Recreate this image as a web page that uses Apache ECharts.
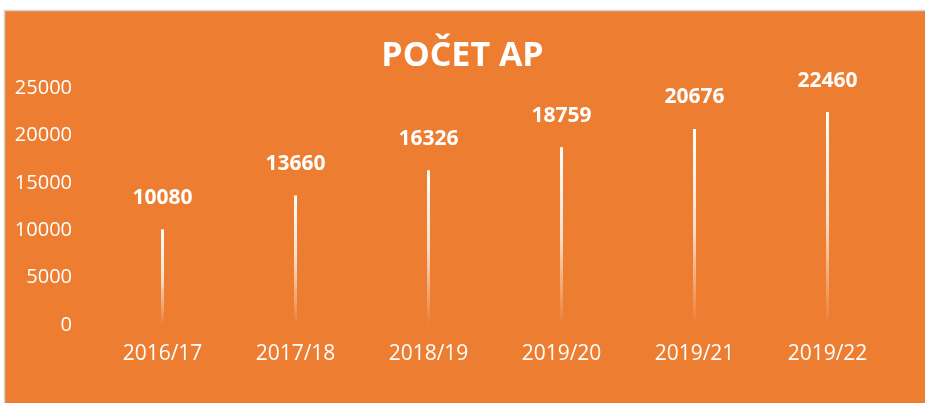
<!DOCTYPE html>
<html>
<head>
<meta charset="utf-8">
<script src="https://cdn.jsdelivr.net/npm/echarts@6/dist/echarts.min.js"></script>
<style>
html, body { margin: 0; padding: 0; background: #fff; }
#chart { width: 925px; height: 403px; }
</style>
</head>
<body>
<div id="chart"></div>
<script>
const categories = ['2016/17', '2017/18', '2018/19', '2019/20', '2019/21', '2019/22'];
const counts = [10080, 13660, 16326, 18759, 20676, 22460];
const yTicks = { min: 0, max: 25000, interval: 5000 };

const colorSets = {
    bg: '#ED7D31',
    text: '#ffffff',
    border: '#d4d4d4'
};
const fontFamily = '"Open Sans", sans-serif';

const chart = echarts.init(document.getElementById('chart'));
chart.setOption({
    backgroundColor: '#ffffff',
    graphic: [
        {
            type: 'rect',
            z: -10,
            shape: { x: 4.5, y: 10.5, width: 930, height: 410 },
            style: { fill: colorSets.bg, stroke: colorSets.border, lineWidth: 1.5 }
        }
    ],
    title: {
        text: 'POČET AP',
        left: 'center',
        top: 34,
        textStyle: {
            color: colorSets.text,
            fontFamily: fontFamily,
            fontWeight: 'bold',
            fontSize: 34
        }
    },
    grid: {
        left: 96,
        right: 31,
        top: 88,
        bottom: 78
    },
    xAxis: {
        type: 'category',
        data: categories,
        axisLine: { show: false },
        axisTick: { show: false },
        axisLabel: {
            color: colorSets.text,
            fontFamily: fontFamily,
            fontSize: 21,
            margin: 19
        }
    },
    yAxis: {
        type: 'value',
        min: yTicks.min,
        max: yTicks.max,
        interval: yTicks.interval,
        splitLine: { show: false },
        axisLine: { show: false },
        axisTick: { show: false },
        axisLabel: {
            color: colorSets.text,
            fontFamily: fontFamily,
            fontSize: 20,
            margin: 24,
            formatter: function (v) { return String(v); }
        }
    },
    series: [
        {
            type: 'bar',
            data: counts,
            barWidth: 3,
            itemStyle: {
                color: new echarts.graphic.LinearGradient(0, 0, 0, 1, [
                    { offset: 0, color: 'rgba(255,255,255,1)' },
                    { offset: 0.5, color: 'rgba(255,255,255,0.75)' },
                    { offset: 1, color: 'rgba(255,255,255,0)' }
                ])
            },
            label: {
                show: true,
                position: 'top',
                distance: 21,
                color: colorSets.text,
                fontFamily: fontFamily,
                fontWeight: 'bold',
                fontSize: 21
            }
        }
    ]
});
</script>
</body>
</html>
